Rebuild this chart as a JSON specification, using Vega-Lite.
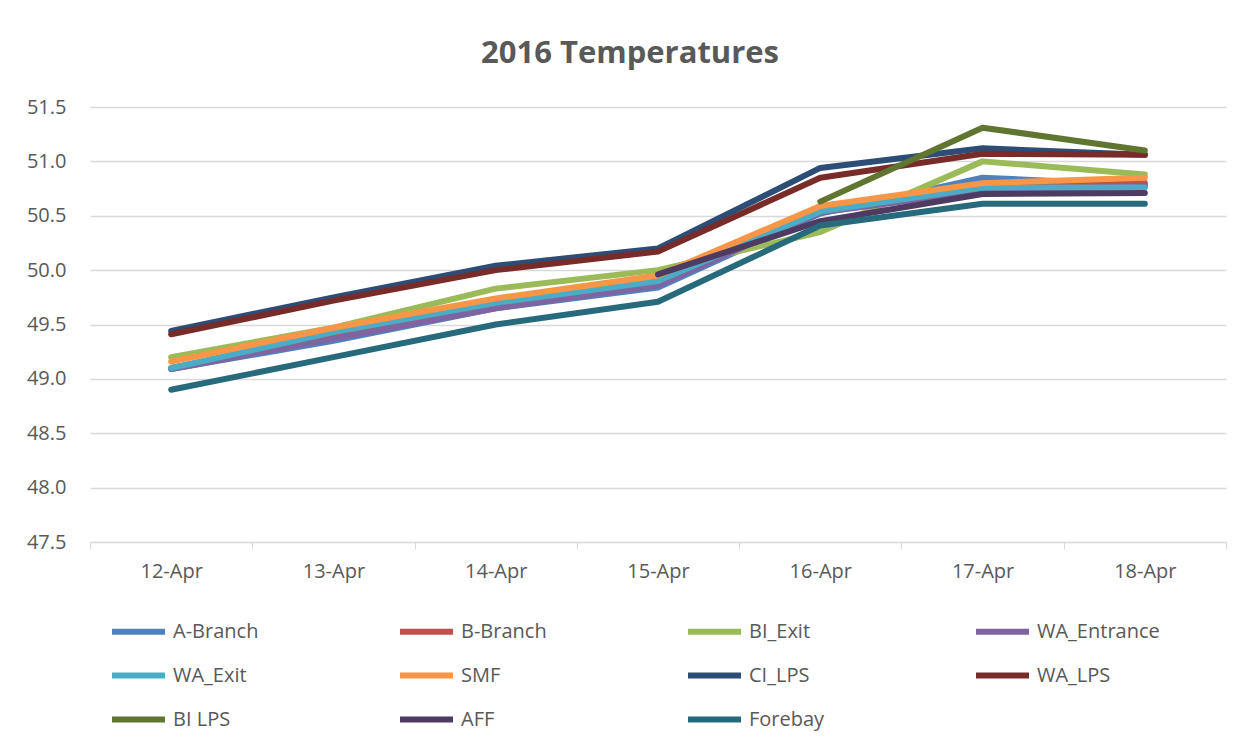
{
  "$schema": "https://vega.github.io/schema/vega-lite/v6.json",
  "autosize": "none",
  "width": 1136,
  "height": 435,
  "padding": {"left": 90, "top": 107, "right": 27, "bottom": 205},
  "background": "white",
  "config": {
    "font": "Open Sans",
    "view": {"stroke": null},
    "axis": {"labelColor": "#595959", "labelFontSize": 20, "titleColor": "#595959"}
  },
  "title": {
    "text": "2016 Temperatures",
    "fontSize": 31,
    "fontWeight": "bold",
    "color": "#595959",
    "font": "Open Sans",
    "anchor": "middle",
    "frame": "group",
    "dx": -28,
    "offset": 27
  },
  "data": {
    "values": [
      {"date": "12-Apr", "series": "A-Branch", "temp": 49.09},
      {"date": "13-Apr", "series": "A-Branch", "temp": 49.35},
      {"date": "14-Apr", "series": "A-Branch", "temp": 49.65},
      {"date": "15-Apr", "series": "A-Branch", "temp": 49.84},
      {"date": "16-Apr", "series": "A-Branch", "temp": 50.52},
      {"date": "17-Apr", "series": "A-Branch", "temp": 50.85},
      {"date": "18-Apr", "series": "A-Branch", "temp": 50.78},
      {"date": "12-Apr", "series": "B-Branch", "temp": 49.10},
      {"date": "13-Apr", "series": "B-Branch", "temp": 49.38},
      {"date": "14-Apr", "series": "B-Branch", "temp": 49.66},
      {"date": "15-Apr", "series": "B-Branch", "temp": 49.88},
      {"date": "16-Apr", "series": "B-Branch", "temp": 50.55},
      {"date": "17-Apr", "series": "B-Branch", "temp": 50.79},
      {"date": "18-Apr", "series": "B-Branch", "temp": 50.80},
      {"date": "12-Apr", "series": "BI_Exit", "temp": 49.20},
      {"date": "13-Apr", "series": "BI_Exit", "temp": 49.47},
      {"date": "14-Apr", "series": "BI_Exit", "temp": 49.83},
      {"date": "15-Apr", "series": "BI_Exit", "temp": 50.00},
      {"date": "16-Apr", "series": "BI_Exit", "temp": 50.35},
      {"date": "17-Apr", "series": "BI_Exit", "temp": 51.00},
      {"date": "18-Apr", "series": "BI_Exit", "temp": 50.88},
      {"date": "12-Apr", "series": "WA_Entrance", "temp": 49.09},
      {"date": "13-Apr", "series": "WA_Entrance", "temp": 49.37},
      {"date": "14-Apr", "series": "WA_Entrance", "temp": 49.65},
      {"date": "15-Apr", "series": "WA_Entrance", "temp": 49.86},
      {"date": "16-Apr", "series": "WA_Entrance", "temp": 50.53},
      {"date": "17-Apr", "series": "WA_Entrance", "temp": 50.73},
      {"date": "18-Apr", "series": "WA_Entrance", "temp": 50.77},
      {"date": "12-Apr", "series": "WA_Exit", "temp": 49.10},
      {"date": "13-Apr", "series": "WA_Exit", "temp": 49.43},
      {"date": "14-Apr", "series": "WA_Exit", "temp": 49.70},
      {"date": "15-Apr", "series": "WA_Exit", "temp": 49.90},
      {"date": "16-Apr", "series": "WA_Exit", "temp": 50.54},
      {"date": "17-Apr", "series": "WA_Exit", "temp": 50.76},
      {"date": "18-Apr", "series": "WA_Exit", "temp": 50.76},
      {"date": "12-Apr", "series": "SMF", "temp": 49.16},
      {"date": "13-Apr", "series": "SMF", "temp": 49.47},
      {"date": "14-Apr", "series": "SMF", "temp": 49.74},
      {"date": "15-Apr", "series": "SMF", "temp": 49.95},
      {"date": "16-Apr", "series": "SMF", "temp": 50.59},
      {"date": "17-Apr", "series": "SMF", "temp": 50.80},
      {"date": "18-Apr", "series": "SMF", "temp": 50.85},
      {"date": "12-Apr", "series": "CI_LPS", "temp": 49.44},
      {"date": "13-Apr", "series": "CI_LPS", "temp": 49.75},
      {"date": "14-Apr", "series": "CI_LPS", "temp": 50.04},
      {"date": "15-Apr", "series": "CI_LPS", "temp": 50.20},
      {"date": "16-Apr", "series": "CI_LPS", "temp": 50.94},
      {"date": "17-Apr", "series": "CI_LPS", "temp": 51.12},
      {"date": "18-Apr", "series": "CI_LPS", "temp": 51.06},
      {"date": "12-Apr", "series": "WA_LPS", "temp": 49.41},
      {"date": "13-Apr", "series": "WA_LPS", "temp": 49.72},
      {"date": "14-Apr", "series": "WA_LPS", "temp": 50.00},
      {"date": "15-Apr", "series": "WA_LPS", "temp": 50.17},
      {"date": "16-Apr", "series": "WA_LPS", "temp": 50.85},
      {"date": "17-Apr", "series": "WA_LPS", "temp": 51.07},
      {"date": "18-Apr", "series": "WA_LPS", "temp": 51.06},
      {"date": "16-Apr", "series": "BI LPS", "temp": 50.63},
      {"date": "17-Apr", "series": "BI LPS", "temp": 51.31},
      {"date": "18-Apr", "series": "BI LPS", "temp": 51.10},
      {"date": "15-Apr", "series": "AFF", "temp": 49.96},
      {"date": "16-Apr", "series": "AFF", "temp": 50.45},
      {"date": "17-Apr", "series": "AFF", "temp": 50.70},
      {"date": "18-Apr", "series": "AFF", "temp": 50.71},
      {"date": "12-Apr", "series": "Forebay", "temp": 48.90},
      {"date": "13-Apr", "series": "Forebay", "temp": 49.20},
      {"date": "14-Apr", "series": "Forebay", "temp": 49.50},
      {"date": "15-Apr", "series": "Forebay", "temp": 49.71},
      {"date": "16-Apr", "series": "Forebay", "temp": 50.41},
      {"date": "17-Apr", "series": "Forebay", "temp": 50.61},
      {"date": "18-Apr", "series": "Forebay", "temp": 50.61}
    ]
  },
  "mark": {"type": "line", "strokeWidth": 6, "strokeCap": "round", "strokeJoin": "round"},
  "encoding": {
    "x": {
      "field": "date",
      "type": "ordinal",
      "sort": null,
      "scale": {"type": "band", "paddingInner": 0, "paddingOuter": 0},
      "axis": {
        "title": null,
        "labelAngle": 0,
        "domainColor": "#d9d9d9",
        "domainWidth": 1,
        "tickColor": "#d9d9d9",
        "tickSize": 7,
        "tickBand": "extent",
        "labelPadding": 12,
        "grid": false
      }
    },
    "y": {
      "field": "temp",
      "type": "quantitative",
      "scale": {"domain": [47.5, 51.5], "nice": false, "zero": false},
      "axis": {
        "title": null,
        "values": [47.5, 48, 48.5, 49, 49.5, 50, 50.5, 51, 51.5],
        "format": ".1f",
        "domain": false,
        "ticks": false,
        "labelPadding": 24,
        "gridColor": "#d9d9d9",
        "gridWidth": 1.5
      }
    },
    "color": {
      "field": "series",
      "type": "nominal",
      "scale": {
        "domain": ["A-Branch", "B-Branch", "BI_Exit", "WA_Entrance", "WA_Exit", "SMF", "CI_LPS", "WA_LPS", "BI LPS", "AFF", "Forebay"],
        "range": ["#4F81BD", "#C0504D", "#9BBB59", "#8064A2", "#4BACC6", "#F79646", "#2C4D75", "#772C2A", "#5F7530", "#4D3B62", "#276A7C"]
      },
      "legend": {
        "title": null,
        "orient": "none",
        "direction": "horizontal",
        "legendX": 19,
        "legendY": 495,
        "columns": 4,
        "gridAlign": "all",
        "columnPadding": 92,
        "rowPadding": 2,
        "symbolType": "stroke",
        "symbolSize": 2809,
        "symbolStrokeWidth": 6,
        "labelFontSize": 20,
        "labelColor": "#595959",
        "labelOffset": 5,
        "labelLimit": 300
      }
    }
  }
}
